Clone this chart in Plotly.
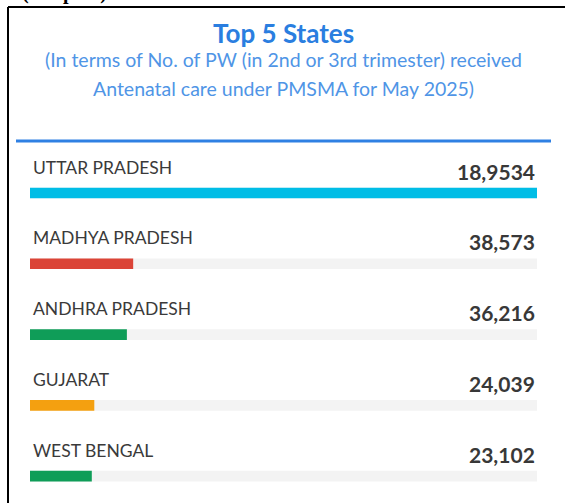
import plotly.graph_objects as go

states = ["UTTAR PRADESH", "MADHYA PRADESH", "ANDHRA PRADESH", "GUJARAT", "WEST BENGAL"]
values = [189534, 38573, 36216, 24039, 23102]
value_labels = ["18,9534", "38,573", "36,216", "24,039", "23,102"]
colors = ["#00bde6", "#db4437", "#0f9d58", "#f4a010", "#0f9d58"]

W, H = 565, 503
ML, MR, MT, MB = 30, 28, 158, 0
ph = H - MT - MB
pw = W - ML - MR

def py(p):  # pixel y -> paper y
    return (H - MB - p) / ph

def px(p):  # pixel x -> paper x
    return (p - ML) / pw

idx = list(range(len(states)))
vmax = max(values)

fig = go.Figure()
fig.add_trace(go.Bar(y=idx, x=[vmax] * len(states), orientation="h",
                     marker=dict(color="#f3f3f3", line=dict(width=0)),
                     width=0.15, hoverinfo="skip", showlegend=False))
fig.add_trace(go.Bar(y=idx, x=values, orientation="h",
                     marker=dict(color=colors, line=dict(width=0)),
                     width=0.15, showlegend=False))

ann = []
for i, (s, v) in enumerate(zip(states, value_labels)):
    ann.append(dict(x=0, y=i, xref="x", yref="y", text=s, showarrow=False,
                    xanchor="left", yanchor="middle", yshift=26, xshift=1,
                    font=dict(family="Lato", size=17.5, color="#3a3a3a")))
    ann.append(dict(x=vmax, y=i, xref="x", yref="y", text=v, showarrow=False,
                    xanchor="right", yanchor="middle", yshift=22,
                    font=dict(family="Lato", size=21, color="#383838", weight="bold")))

ann.append(dict(x=px(283), y=py(33), xref="paper", yref="paper", text="Top 5 States",
                showarrow=False, xanchor="center", yanchor="middle",
                font=dict(family="Lato", size=26, color="#2a7ee0", weight="bold")))
ann.append(dict(x=px(283), y=py(60), xref="paper", yref="paper",
                text="(In terms of No. of PW (in 2nd or 3rd trimester) received",
                showarrow=False, xanchor="center", yanchor="middle",
                font=dict(family="Lato", size=19.5, color="#4f95e6")))
ann.append(dict(x=px(283), y=py(88), xref="paper", yref="paper",
                text="Antenatal care under PMSMA for May 2025)",
                showarrow=False, xanchor="center", yanchor="middle",
                font=dict(family="Lato", size=19.5, color="#4f95e6")))
ann.append(dict(x=px(20), y=py(6), xref="paper", yref="paper", text="(Graph 2)",
                showarrow=False, xanchor="left", yanchor="bottom",
                font=dict(family="Liberation Serif", size=20, color="#000000", weight="bold")))

shapes = [
    dict(type="line", xref="paper", yref="paper", x0=px(8), x1=px(566), y0=py(7), y1=py(7),
         line=dict(color="#000000", width=2)),
    dict(type="line", xref="paper", yref="paper", x0=px(8), x1=px(8), y0=py(7), y1=py(504),
         line=dict(color="#000000", width=2)),
    dict(type="line", xref="paper", yref="paper", x0=px(16), x1=px(551), y0=py(141), y1=py(141),
         line=dict(color="#2f80e3", width=3)),
]

fig.update_layout(
    width=W, height=H, margin=dict(l=ML, r=MR, t=MT, b=MB),
    paper_bgcolor="white", plot_bgcolor="white", barmode="overlay",
    xaxis=dict(range=[0, vmax], visible=False, fixedrange=True),
    yaxis=dict(range=[4.38, -0.495], visible=False, fixedrange=True),
    annotations=ann, shapes=shapes, showlegend=False,
)

fig.write_html("out.html", config={"displayModeBar": False},
               post_script="document.body.style.margin='0px';")
